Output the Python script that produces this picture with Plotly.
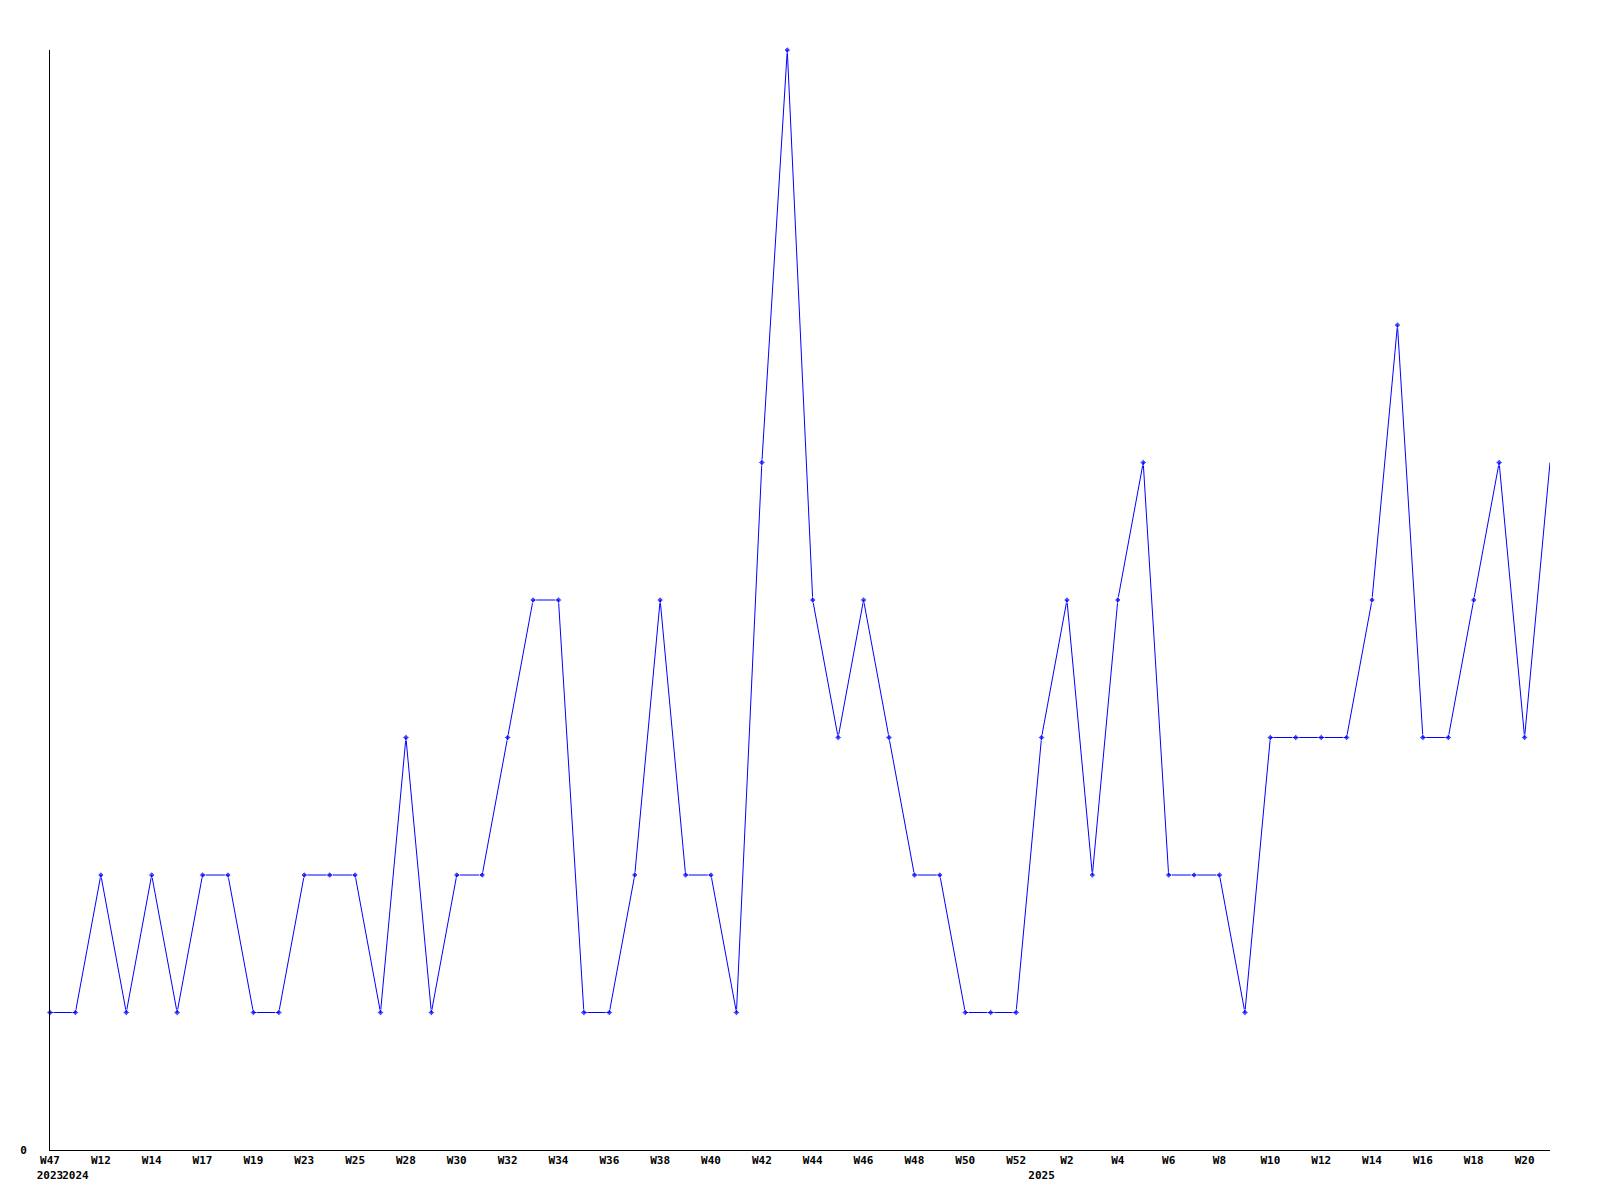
import plotly.graph_objects as go

weeks = ["W47", "W11", "W12", "W13", "W14", "W15", "W17", "W18", "W19", "W21",
         "W23", "W24", "W25", "W27", "W28", "W29", "W30", "W31", "W32", "W33",
         "W34", "W35", "W36", "W37", "W38", "W39", "W40", "W41", "W42", "W43",
         "W44", "W45", "W46", "W47", "W48", "W49", "W50", "W51", "W52", "W1",
         "W2", "W3", "W4", "W5", "W6", "W7", "W8", "W9", "W10", "W11",
         "W12", "W13", "W14", "W15", "W16", "W17", "W18", "W19", "W20", "W21"]
years = [2023] + [2024] * 38 + [2025] * 21
values = [1, 1, 2, 1, 2, 1, 2, 2, 1, 1,
          2, 2, 2, 1, 3, 1, 2, 2, 3, 4,
          4, 1, 1, 2, 4, 2, 2, 1, 5, 8,
          4, 3, 4, 3, 2, 2, 1, 1, 1, 3,
          4, 2, 4, 5, 2, 2, 2, 1, 3, 3,
          3, 3, 4, 6, 3, 3, 4, 5, 3, 5]

x = list(range(len(values)))

tickvals, ticktext = [], []
for i in x:
    new_year = i == 0 or years[i] != years[i - 1]
    wk = weeks[i] if i % 2 == 0 else ""
    if wk or new_year:
        tickvals.append(i)
        ticktext.append(wk + ("<br>" + str(years[i]) if new_year else "<br> "))

marker_sizes = [5] * (len(values) - 1) + [0]

tfont = dict(family="DejaVu Sans Mono", size=11, color="black", weight="bold")

fig = go.Figure(go.Scatter(
    x=x, y=values, mode="lines+markers",
    line=dict(color="#0000ff", width=1),
    marker=dict(color="#0000ff", size=marker_sizes, symbol="diamond"),
    cliponaxis=False,
))

fig.update_layout(
    width=1600, height=1200,
    margin=dict(l=42, r=58, t=42, b=58, autoexpand=False),
    plot_bgcolor="white", paper_bgcolor="white",
    showlegend=False,
)
fig.update_xaxes(
    range=[0, len(values) - 1], showgrid=False, zeroline=False,
    showline=True, linecolor="black", linewidth=1, layer="above traces",
    tickmode="array", tickvals=tickvals, ticktext=ticktext,
    ticks="", tickfont=tfont, tickangle=0,
)
fig.update_yaxes(
    range=[0, 8], showgrid=False, zeroline=False,
    showline=True, linecolor="black", linewidth=1, layer="above traces",
    tickmode="array", tickvals=[0], ticktext=["0"], ticks="",
    ticklabelstandoff=20, tickfont=tfont,
)

fig.write_html("out.html")
